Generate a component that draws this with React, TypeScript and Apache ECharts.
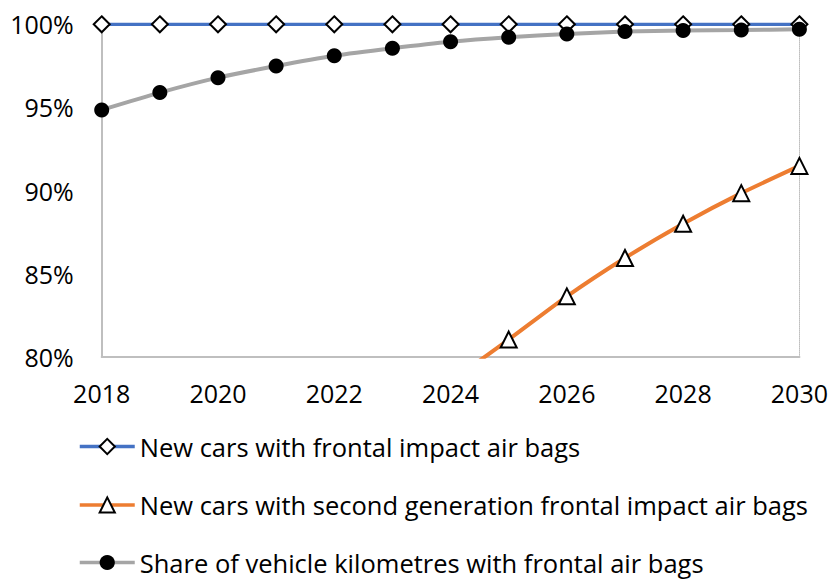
import React, { useEffect, useRef } from "react";
import * as echarts from "echarts";

const years = ["2018", "2019", "2020", "2021", "2022", "2023", "2024", "2025", "2026", "2027", "2028", "2029", "2030"];
const newCarsFrontal = [100, 100, 100, 100, 100, 100, 100, 100, 100, 100, 100, 100, 100];
const newCarsSecondGen = [null, null, null, null, null, null, 78.5, 81.03, 83.63, 85.94, 88.0, 89.84, 91.48];
const vehicleKmShare = [94.85, 95.89, 96.79, 97.49, 98.11, 98.56, 98.95, 99.22, 99.42, 99.56, 99.62, 99.66, 99.7];
const seriesNames = [
  "New cars with frontal impact air bags",
  "New cars with second generation frontal impact air bags",
  "Share of vehicle kilometres with frontal air bags",
];
const yMin = 80;
const yMax = 100;
const yInterval = 5;

const FONT = "'Open Sans', sans-serif";

export default function App() {
  const ref = useRef<HTMLDivElement>(null);
  useEffect(() => {
    if (!ref.current) return;
    const chart = echarts.init(ref.current, undefined, { renderer: "svg" });
    const axisGrey = "#bfbfbf";
    const legendTops = [433.5, 492, 549.5];
    chart.setOption({
      animation: false,
      backgroundColor: "#ffffff",
      grid: { left: 101.7, right: 29.3, top: 24.3, bottom: 222.3 },
      legend: seriesNames.map((name, i) => ({
        orient: "vertical",
        left: 78,
        top: legendTops[i],
        padding: 0,
        itemWidth: 55,
        itemHeight: 19,
        data: [name],
        lineStyle: { width: 3.5 },
        textStyle: { fontSize: 25.5, lineHeight: 22, fontFamily: FONT, color: "#000" },
      })),
      xAxis: [
        {
          type: "category",
          data: years,
          boundaryGap: false,
          axisLine: { lineStyle: { color: axisGrey, width: 2 } },
          axisTick: { show: false },
          axisLabel: { interval: 1, fontSize: 25, fontFamily: FONT, color: "#000", margin: 24 },
          splitLine: { show: false },
        },
        {
          type: "category",
          data: years,
          position: "top",
          boundaryGap: false,
          axisLine: { lineStyle: { color: axisGrey, width: 1, type: "dotted" } },
          axisTick: { show: false },
          axisLabel: { show: false },
          splitLine: { show: false },
        },
      ],
      yAxis: [
        {
          type: "value",
          min: yMin,
          max: yMax,
          interval: yInterval,
          axisLine: { show: true, lineStyle: { color: axisGrey, width: 2 } },
          axisTick: { show: false },
          axisLabel: { formatter: "{value}%", fontSize: 25, fontFamily: FONT, color: "#000", margin: 28 },
          splitLine: { show: false },
        },
        {
          type: "value",
          min: yMin,
          max: yMax,
          interval: yInterval,
          position: "right",
          axisLine: { show: true, lineStyle: { color: axisGrey, width: 1, type: "dotted" } },
          axisTick: { show: false },
          axisLabel: { show: false },
          splitLine: { show: false },
        },
      ],
      series: [
        {
          name: seriesNames[0],
          type: "line",
          data: newCarsFrontal,
          symbol: "diamond",
          symbolSize: 16,
          lineStyle: { color: "#4472C4", width: 3.5 },
          itemStyle: { color: "#ffffff", borderColor: "#000", borderWidth: 2 },
        },
        {
          name: seriesNames[1],
          type: "line",
          data: newCarsSecondGen,
          symbol: "triangle",
          symbolSize: 16,
          smooth: 0.2,
          connectNulls: false,
          lineStyle: { color: "#ED7D31", width: 4 },
          itemStyle: { color: "#ffffff", borderColor: "#000", borderWidth: 2 },
        },
        {
          name: seriesNames[2],
          type: "line",
          data: vehicleKmShare,
          symbol: "circle",
          symbolSize: 15,
          smooth: 0.2,
          lineStyle: { color: "#A5A5A5", width: 4 },
          itemStyle: { color: "#000", borderWidth: 0 },
        },
      ],
    });
    return () => chart.dispose();
  }, []);
  return (
    <div
      ref={ref}
      style={{ position: "absolute", left: 0, top: 0, width: 831, height: 579, background: "#fff" }}
    />
  );
}
